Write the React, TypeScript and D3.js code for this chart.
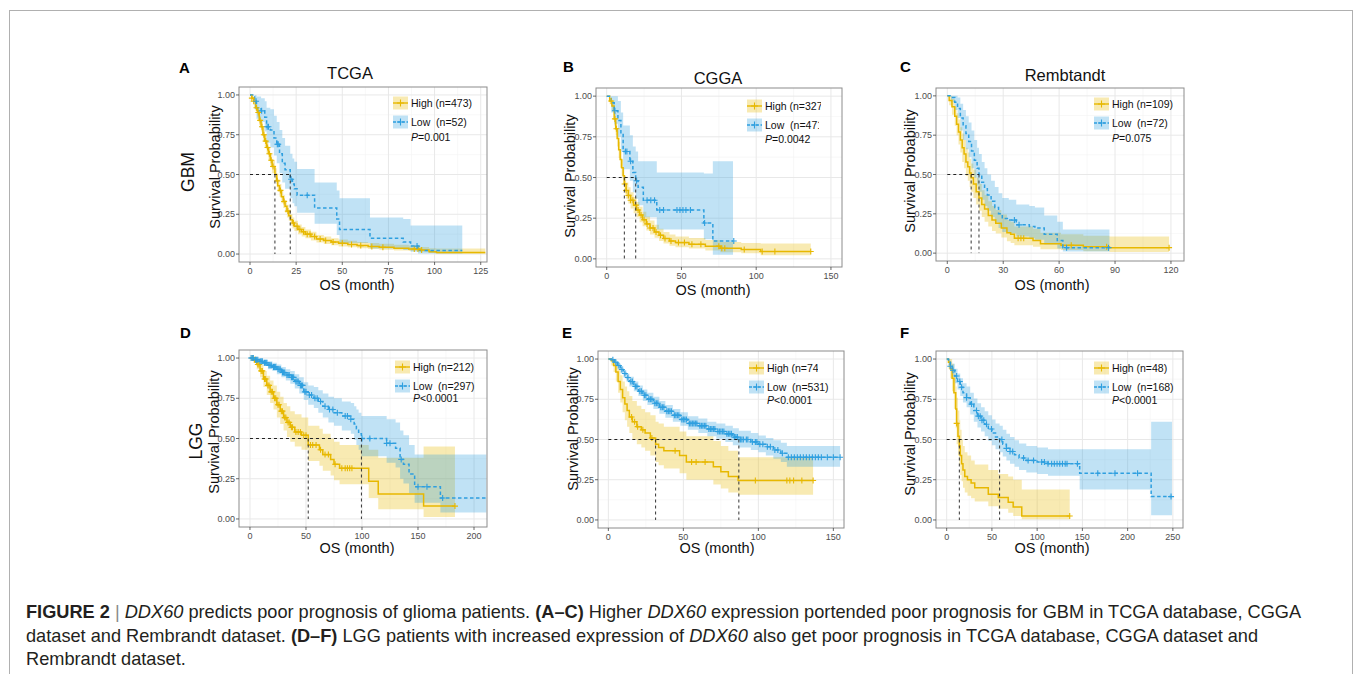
import React from 'react';
import * as d3 from 'd3';

// rows: [month, survival, lower CI, upper CI]
type Row = [number, number, number, number];

const HIGH_COLOR = '#E7B800';
const LOW_COLOR = '#2E9FDF';
const FONT = '"Liberation Sans", Arial, Helvetica, sans-serif';

const yTicks = [0, 0.25, 0.5, 0.75, 1];

// ---- A: GBM / TCGA ----
const tcgaGbmHigh: Row[] = [
  [0, 1, 1, 1], [1, 0.98, 0.97, 0.99], [2, 0.96, 0.94, 0.98], [3, 0.92, 0.9, 0.94],
  [4, 0.89, 0.86, 0.92], [5, 0.84, 0.81, 0.87], [6, 0.8, 0.77, 0.83], [7, 0.75, 0.71, 0.79],
  [8, 0.71, 0.67, 0.75], [9, 0.67, 0.63, 0.71], [10, 0.63, 0.59, 0.67], [11, 0.59, 0.55, 0.63],
  [12, 0.55, 0.51, 0.59], [13.5, 0.5, 0.46, 0.54], [14.5, 0.46, 0.42, 0.5], [15, 0.43, 0.39, 0.47],
  [16, 0.4, 0.36, 0.44], [17, 0.36, 0.32, 0.4], [18, 0.33, 0.29, 0.37], [19, 0.3, 0.26, 0.34],
  [20, 0.27, 0.23, 0.31], [21, 0.24, 0.21, 0.28], [22, 0.215, 0.18, 0.25], [23, 0.195, 0.16, 0.23],
  [24, 0.175, 0.145, 0.21], [26, 0.155, 0.125, 0.185], [28, 0.14, 0.11, 0.17], [30, 0.125, 0.1, 0.155],
  [33, 0.11, 0.085, 0.14], [36, 0.095, 0.072, 0.12], [40, 0.085, 0.063, 0.11], [44, 0.075, 0.055, 0.1],
  [48, 0.068, 0.048, 0.092], [53, 0.06, 0.042, 0.083], [58, 0.053, 0.036, 0.076], [64, 0.047, 0.031, 0.07],
  [70, 0.042, 0.027, 0.064], [78, 0.037, 0.023, 0.058], [86, 0.032, 0.019, 0.053], [92, 0.025, 0.014, 0.045],
  [97, 0.015, 0.006, 0.036], [101, 0.009, 0.002, 0.035], [127.5, 0.009, 0.002, 0.035],
];
const tcgaGbmLow: Row[] = [
  [0, 1, 1, 1], [2.5, 0.96, 0.91, 1], [3.5, 0.92, 0.85, 0.99], [6, 0.9, 0.83, 0.98],
  [8, 0.86, 0.77, 0.96], [9, 0.8, 0.7, 0.92], [11, 0.78, 0.67, 0.91], [13, 0.73, 0.62, 0.87],
  [14.5, 0.69, 0.57, 0.83], [16, 0.63, 0.51, 0.78], [17.5, 0.57, 0.45, 0.73], [19, 0.53, 0.41, 0.68],
  [21.8, 0.47, 0.35, 0.63], [23, 0.44, 0.32, 0.6], [24, 0.41, 0.3, 0.58], [25.5, 0.37, 0.26, 0.535],
  [35, 0.29, 0.19, 0.45], [47, 0.22, 0.12, 0.4], [48.5, 0.155, 0.07, 0.35], [65, 0.1, 0.035, 0.23],
  [83, 0.075, 0.025, 0.22], [87, 0.05, 0.015, 0.18], [91, 0.022, 0.004, 0.18], [115, 0.022, 0.004, 0.18],
];
const tcgaGbmHighCensor = [1, 2, 3.5, 4.5, 5.5, 6.5, 7.5, 8.5, 9.5, 10.5, 11.5, 12.5, 14.8, 16.5, 18.5, 20.5, 23.5,
  25.5, 27, 29, 31, 32.5, 35, 38, 41, 45, 50, 55, 60, 66, 72, 89, 91, 93];
const tcgaGbmLowCensor = [3.3, 6.3, 9.3, 10, 14.8, 15.3, 22.3, 31, 90.5];

// ---- B: GBM / CGGA ----
const cggaGbmHigh: Row[] = [
  [0, 1, 1, 1], [2, 0.97, 0.95, 0.99], [3.5, 0.94, 0.91, 0.97], [5, 0.86, 0.82, 0.9],
  [6, 0.8, 0.76, 0.84], [7, 0.74, 0.69, 0.79], [8, 0.67, 0.62, 0.72], [9, 0.61, 0.56, 0.66],
  [10, 0.56, 0.51, 0.61], [11, 0.51, 0.46, 0.56], [11.8, 0.46, 0.41, 0.51], [13, 0.42, 0.37, 0.47],
  [14.5, 0.39, 0.34, 0.44], [16, 0.36, 0.31, 0.41], [18, 0.33, 0.28, 0.38], [20, 0.3, 0.255, 0.35],
  [22, 0.27, 0.225, 0.32], [24, 0.24, 0.2, 0.29], [26.5, 0.215, 0.175, 0.26], [29, 0.19, 0.15, 0.235],
  [32, 0.165, 0.13, 0.21], [35, 0.145, 0.11, 0.185], [38, 0.125, 0.095, 0.165], [42, 0.11, 0.08, 0.15],
  [46, 0.1, 0.072, 0.138], [55, 0.09, 0.063, 0.128], [66, 0.078, 0.052, 0.116], [76, 0.065, 0.041, 0.103],
  [90, 0.058, 0.035, 0.097], [103, 0.045, 0.022, 0.095], [136.5, 0.045, 0.022, 0.095],
];
const cggaGbmLow: Row[] = [
  [0, 1, 1, 1], [3, 0.96, 0.9, 1], [5, 0.91, 0.83, 1], [7.5, 0.85, 0.75, 0.97],
  [9.5, 0.77, 0.66, 0.9], [11, 0.66, 0.55, 0.82], [15.5, 0.6, 0.48, 0.76], [17.5, 0.53, 0.41, 0.69],
  [19.4, 0.48, 0.37, 0.66], [21, 0.44, 0.33, 0.6], [24.5, 0.36, 0.255, 0.6], [33.5, 0.3, 0.18, 0.53],
  [65, 0.22, 0.12, 0.525], [71, 0.11, 0.025, 0.6], [84.5, 0.11, 0.025, 0.6],
];
const cggaGbmHighCensor = [3, 5.5, 6.5, 12, 13, 14.5, 16, 17.5, 19.5, 21, 23, 25, 27, 29, 31, 33, 36, 39, 43, 48,
  52, 57, 63, 75, 77, 79, 92, 104, 112.5, 136.5];
const cggaGbmLowCensor = [5.5, 12.5, 13.5, 16, 20, 27, 29.5, 32, 35.5, 38, 47, 49, 51, 53, 56, 65.5, 85];

// ---- C: GBM / Rembrandt ----
const rembGbmHigh: Row[] = [
  [0, 1, 1, 1], [1, 0.97, 0.94, 1], [2.5, 0.93, 0.88, 0.98], [4, 0.87, 0.81, 0.93],
  [5, 0.82, 0.75, 0.89], [6, 0.77, 0.69, 0.85], [7, 0.72, 0.64, 0.8], [8, 0.67, 0.58, 0.76],
  [9, 0.63, 0.54, 0.72], [10, 0.58, 0.49, 0.67], [11, 0.55, 0.46, 0.64], [12, 0.51, 0.42, 0.6],
  [12.8, 0.48, 0.39, 0.57], [14, 0.44, 0.35, 0.53], [15.5, 0.39, 0.31, 0.48], [17, 0.35, 0.27, 0.44],
  [18.5, 0.31, 0.23, 0.4], [20, 0.28, 0.2, 0.37], [22, 0.24, 0.17, 0.33], [24, 0.21, 0.14, 0.3],
  [26, 0.19, 0.125, 0.275], [29, 0.16, 0.1, 0.245], [32, 0.13, 0.075, 0.21], [34, 0.12, 0.065, 0.2],
  [36, 0.095, 0.05, 0.17], [46, 0.08, 0.04, 0.155], [50, 0.06, 0.025, 0.13], [61, 0.05, 0.02, 0.12],
  [73, 0.04, 0.012, 0.11], [87, 0.035, 0.008, 0.105], [119, 0.035, 0.008, 0.105],
];
const rembGbmLow: Row[] = [
  [0, 1, 1, 1], [2, 0.99, 0.96, 1], [4, 0.96, 0.91, 1], [5.5, 0.92, 0.86, 0.99],
  [7, 0.86, 0.78, 0.95], [8.5, 0.81, 0.72, 0.91], [10, 0.76, 0.66, 0.87], [11.5, 0.71, 0.61, 0.83],
  [13, 0.65, 0.54, 0.78], [14.5, 0.59, 0.48, 0.72], [16, 0.54, 0.43, 0.67], [17, 0.5, 0.39, 0.63],
  [18.5, 0.45, 0.34, 0.58], [20, 0.41, 0.3, 0.54], [21.5, 0.37, 0.27, 0.5], [23.5, 0.33, 0.23, 0.46],
  [25.5, 0.29, 0.195, 0.42], [27.5, 0.25, 0.16, 0.38], [29.5, 0.22, 0.135, 0.35], [33, 0.21, 0.125, 0.34],
  [37, 0.18, 0.105, 0.31], [44, 0.17, 0.095, 0.3], [47, 0.16, 0.085, 0.29], [52, 0.12, 0.055, 0.24],
  [59, 0.08, 0.03, 0.2], [62, 0.035, 0.01, 0.15], [87, 0.035, 0.01, 0.15],
];
const rembGbmHighCensor = [38, 39.5, 41, 66.5, 85.5, 119];
const rembGbmLowCensor = [36, 38.5, 64, 86.5];

// ---- D: LGG / TCGA ----
const tcgaLggHigh: Row[] = [
  [0, 1, 1, 1], [3, 0.99, 0.97, 1], [6, 0.96, 0.93, 0.99], [9, 0.92, 0.88, 0.96],
  [12, 0.87, 0.82, 0.92], [15, 0.83, 0.77, 0.89], [18, 0.79, 0.72, 0.86], [21, 0.75, 0.68, 0.83],
  [24, 0.71, 0.63, 0.79], [27, 0.67, 0.59, 0.76], [30, 0.63, 0.55, 0.72], [33, 0.6, 0.51, 0.7],
  [36, 0.57, 0.48, 0.67], [40, 0.54, 0.45, 0.65], [46, 0.52, 0.43, 0.63], [52, 0.46, 0.36, 0.58],
  [62, 0.43, 0.33, 0.56], [65, 0.4, 0.3, 0.53], [72, 0.37, 0.27, 0.5], [75, 0.34, 0.24, 0.48],
  [80, 0.315, 0.215, 0.46], [106, 0.235, 0.13, 0.43], [114.5, 0.155, 0.06, 0.38], [155, 0.08, 0.012, 0.45],
  [183, 0.08, 0.012, 0.45],
];
const tcgaLggLow: Row[] = [
  [0, 1, 1, 1], [4, 0.99, 0.98, 1], [8, 0.98, 0.965, 0.995], [12, 0.97, 0.95, 0.99],
  [16, 0.955, 0.93, 0.98], [20, 0.945, 0.92, 0.97], [24, 0.93, 0.9, 0.96], [28, 0.91, 0.88, 0.945],
  [32, 0.895, 0.86, 0.93], [36, 0.88, 0.84, 0.92], [40, 0.855, 0.81, 0.9], [44, 0.83, 0.78, 0.88],
  [48, 0.79, 0.74, 0.85], [52, 0.77, 0.71, 0.83], [57, 0.75, 0.69, 0.82], [61, 0.73, 0.66, 0.8],
  [65, 0.7, 0.63, 0.78], [70, 0.68, 0.6, 0.76], [75, 0.66, 0.58, 0.75], [82, 0.64, 0.55, 0.73],
  [90, 0.62, 0.53, 0.72], [93, 0.59, 0.49, 0.7], [95, 0.56, 0.46, 0.68], [97, 0.53, 0.43, 0.66],
  [99.5, 0.5, 0.39, 0.64], [122, 0.47, 0.35, 0.62], [130, 0.44, 0.32, 0.6], [134, 0.37, 0.25, 0.55],
  [137, 0.34, 0.22, 0.52], [142, 0.28, 0.16, 0.46], [147, 0.2, 0.1, 0.4], [170, 0.13, 0.04, 0.4],
  [211, 0.13, 0.04, 0.4],
];
const tcgaLggHighCensor = [2, 4, 5, 7, 8, 10, 11, 13, 14, 16, 17, 19, 20, 22, 23, 25, 26, 28, 29, 31, 32, 34, 35,
  37, 38, 41, 43, 45, 48, 50, 54, 56, 59, 63, 67, 70, 76, 82, 85, 87, 89, 91, 183];
const tcgaLggLowCensor = [1, 2, 3, 5, 6, 7, 9, 10, 11, 13, 14, 15, 17, 18, 19, 21, 22, 23, 25, 26, 27, 29, 30, 31,
  33, 34, 35, 37, 38, 39, 41, 42, 43, 45, 46, 47, 49, 50, 53, 55, 58, 60, 63, 67, 71, 74, 78, 85, 87, 90,
  100, 107, 122, 125, 135, 150, 158, 172];

// ---- E: LGG / CGGA ----
const cggaLggHigh: Row[] = [
  [0, 1, 1, 1], [2, 0.99, 0.96, 1], [3.5, 0.96, 0.92, 1], [5, 0.92, 0.86, 0.98],
  [6.5, 0.86, 0.79, 0.94], [8, 0.81, 0.73, 0.9], [9.5, 0.76, 0.67, 0.86], [11, 0.72, 0.62, 0.83],
  [12.5, 0.68, 0.58, 0.8], [14, 0.64, 0.54, 0.77], [16, 0.61, 0.5, 0.74], [19, 0.58, 0.47, 0.71],
  [22, 0.56, 0.45, 0.69], [24.5, 0.54, 0.43, 0.67], [28, 0.51, 0.4, 0.65], [31.5, 0.47, 0.36, 0.61],
  [33.5, 0.45, 0.34, 0.6], [37, 0.43, 0.32, 0.58], [47.5, 0.4, 0.29, 0.55], [52, 0.36, 0.25, 0.52],
  [70, 0.33, 0.22, 0.49], [75, 0.3, 0.195, 0.46], [80, 0.27, 0.17, 0.43], [86.5, 0.245, 0.157, 0.39],
  [136.5, 0.245, 0.157, 0.39],
];
const cggaLggLow: Row[] = [
  [0, 1, 1, 1], [2, 0.995, 0.99, 1], [4, 0.98, 0.97, 0.99], [6, 0.96, 0.94, 0.975],
  [8, 0.935, 0.915, 0.955], [10, 0.91, 0.885, 0.93], [12, 0.885, 0.86, 0.91], [14, 0.86, 0.83, 0.89],
  [17, 0.83, 0.8, 0.86], [20, 0.8, 0.77, 0.835], [23, 0.775, 0.74, 0.81], [26, 0.75, 0.715, 0.79],
  [30, 0.725, 0.69, 0.765], [34, 0.7, 0.66, 0.74], [38, 0.675, 0.635, 0.715], [43, 0.65, 0.61, 0.69],
  [48, 0.625, 0.585, 0.67], [53, 0.6, 0.56, 0.645], [60, 0.585, 0.54, 0.63], [66, 0.565, 0.52, 0.61],
  [72, 0.55, 0.505, 0.6], [78, 0.535, 0.485, 0.585], [83, 0.515, 0.465, 0.57], [87, 0.5, 0.45, 0.555],
  [95, 0.485, 0.435, 0.54], [100, 0.47, 0.42, 0.525], [105, 0.455, 0.4, 0.51], [110, 0.435, 0.38, 0.495],
  [115, 0.415, 0.36, 0.48], [119, 0.39, 0.33, 0.46], [154.5, 0.39, 0.33, 0.46],
];
const cggaLggHighCensor = [15.5, 17.5, 19.5, 23, 29, 44.5, 55.5, 58.5, 64.5, 98, 119, 121, 123.5, 129, 136.5];
const cggaLggLowCensor = [3, 5, 7, 9, 11, 13, 15, 16, 18, 19, 21, 22, 24, 25, 27, 28, 29, 31, 32, 33, 35, 36, 37,
  39, 40, 41, 42, 44, 45, 46, 47, 49, 50, 51, 52, 54, 55, 56, 57, 58, 59, 61, 62, 63, 64, 65, 67, 68, 69, 70,
  71, 73, 74, 75, 76, 77, 79, 80, 81, 82, 84, 85, 86, 88, 89, 90, 92, 93, 96, 98, 99, 101, 103, 106, 108,
  111, 113, 116, 120, 122, 124, 126, 128, 130, 132, 134, 136, 138, 140, 142, 146, 150, 154.5];

// ---- F: LGG / Rembrandt ----
const rembLggHigh: Row[] = [
  [0, 1, 1, 1], [2, 0.98, 0.94, 1], [4, 0.94, 0.88, 1], [6, 0.88, 0.8, 0.97],
  [8, 0.79, 0.69, 0.91], [10, 0.69, 0.57, 0.83], [11, 0.6, 0.47, 0.76], [12.5, 0.52, 0.4, 0.68],
  [14, 0.46, 0.34, 0.62], [15, 0.4, 0.28, 0.56], [16.5, 0.35, 0.24, 0.5], [18, 0.31, 0.2, 0.46],
  [20, 0.27, 0.17, 0.42], [23, 0.25, 0.15, 0.4], [27, 0.23, 0.135, 0.37], [31, 0.2, 0.115, 0.345],
  [46, 0.16, 0.085, 0.31], [57, 0.14, 0.07, 0.285], [68, 0.11, 0.045, 0.27], [73.5, 0.08, 0.025, 0.25],
  [83, 0.025, 0.004, 0.19], [136, 0.025, 0.004, 0.19],
];
const rembLggLow: Row[] = [
  [0, 1, 1, 1], [2, 0.98, 0.96, 1], [4, 0.955, 0.925, 0.985], [6, 0.93, 0.89, 0.97],
  [9, 0.895, 0.85, 0.94], [12, 0.86, 0.81, 0.91], [15, 0.825, 0.77, 0.88], [18, 0.79, 0.73, 0.85],
  [22, 0.76, 0.7, 0.83], [26, 0.72, 0.655, 0.79], [30, 0.68, 0.61, 0.755], [34, 0.645, 0.575, 0.725],
  [38, 0.62, 0.55, 0.7], [42, 0.595, 0.52, 0.675], [46, 0.565, 0.49, 0.65], [50, 0.54, 0.465, 0.625],
  [54, 0.515, 0.44, 0.6], [58.5, 0.5, 0.42, 0.585], [62, 0.47, 0.395, 0.56], [66, 0.445, 0.37, 0.535],
  [70, 0.425, 0.35, 0.515], [75, 0.405, 0.33, 0.495], [80, 0.385, 0.31, 0.475], [88, 0.37, 0.295, 0.46],
  [100, 0.36, 0.285, 0.45], [112, 0.35, 0.275, 0.44], [147, 0.29, 0.19, 0.44], [226, 0.145, 0.03, 0.61],
  [249, 0.145, 0.03, 0.61],
];
const rembLggHighCensor = [11, 136];
const rembLggLowCensor = [4, 7, 11, 14.5, 16.5, 22, 27.5, 33, 35, 37, 39, 41, 44, 49.5, 61, 66, 70, 73, 85, 90,
  96, 105, 108, 112, 116, 119, 122, 125, 128, 131, 133, 144.5, 167, 186, 211, 248];

// ---- layout of the six panels ----
type Box = { l: number; t: number; r: number; b: number };
type PanelCfg = {
  letter: string; letterPos: [number, number];
  title?: string; titlePos?: [number, number];
  rowLabel?: string; rowLabelPos?: [number, number];
  box: Box; xDomain: [number, number]; xTicks: number[];
  yLabPos: [number, number]; xLabPos: [number, number];
  high: Row[]; low: Row[]; highCens: number[]; lowCens: number[];
  highLabel: string; lowLabel: string; pLabel: string;
  keyX: number; keyHighY: number; keyLowY: number; pY: number; textClip?: [number?, number?];
};

const panels: PanelCfg[] = [
  {
    letter: 'A', letterPos: [179, 73], title: 'TCGA', titlePos: [350, 79], rowLabel: 'GBM', rowLabelPos: [188, 172],
    box: { l: 239, t: 87, r: 487, b: 262 }, xDomain: [-5.96, 128.4], xTicks: [0, 25, 50, 75, 100, 125],
    yLabPos: [215, 167], xLabPos: [357, 290],
    high: tcgaGbmHigh, low: tcgaGbmLow, highCens: tcgaGbmHighCensor, lowCens: tcgaGbmLowCensor,
    highLabel: 'High (n=473)', lowLabel: 'Low  (n=52)', pLabel: '=0.001',
    keyX: 393, keyHighY: 103, keyLowY: 122, pY: 141,
  },
  {
    letter: 'B', letterPos: [563, 72], title: 'CGGA', titlePos: [718, 84],
    box: { l: 596, t: 88, r: 842, b: 267 }, xDomain: [-7.16, 157.4], xTicks: [0, 50, 100, 150],
    yLabPos: [570, 176], xLabPos: [713, 295],
    high: cggaGbmHigh, low: cggaGbmLow, highCens: cggaGbmHighCensor, lowCens: cggaGbmLowCensor,
    highLabel: 'High (n=327)', lowLabel: 'Low  (n=471)', pLabel: '=0.0042',
    keyX: 747, keyHighY: 106, keyLowY: 125, pY: 143, textClip: [821, 819],
  },
  {
    letter: 'C', letterPos: [900, 72], title: 'Rembtandt', titlePos: [1065, 81],
    box: { l: 936, t: 88, r: 1184, b: 261 }, xDomain: [-6.06, 127.0], xTicks: [0, 30, 60, 90, 120],
    yLabPos: [910, 171], xLabPos: [1052, 290],
    high: rembGbmHigh, low: rembGbmLow, highCens: rembGbmHighCensor, lowCens: rembGbmLowCensor,
    highLabel: 'High (n=109)', lowLabel: 'Low  (n=72)', pLabel: '=0.075',
    keyX: 1094, keyHighY: 104, keyLowY: 123, pY: 142,
  },
  {
    letter: 'D', letterPos: [180, 338], rowLabel: 'LGG', rowLabelPos: [196, 441],
    box: { l: 239, t: 350, r: 487, b: 527 }, xDomain: [-9.8, 211.6], xTicks: [0, 50, 100, 150, 200],
    yLabPos: [214, 432], xLabPos: [357, 553],
    high: tcgaLggHigh, low: tcgaLggLow, highCens: tcgaLggHighCensor, lowCens: tcgaLggLowCensor,
    highLabel: 'High (n=212)', lowLabel: 'Low  (n=297)', pLabel: '<0.0001',
    keyX: 395, keyHighY: 367, keyLowY: 386, pY: 402,
  },
  {
    letter: 'E', letterPos: [562, 338],
    box: { l: 598, t: 351, r: 844, b: 528 }, xDomain: [-6.9, 157.1], xTicks: [0, 50, 100, 150],
    yLabPos: [573, 429], xLabPos: [717, 553],
    high: cggaLggHigh, low: cggaLggLow, highCens: cggaLggHighCensor, lowCens: cggaLggLowCensor,
    highLabel: 'High (n=74)', lowLabel: 'Low  (n=531)', pLabel: '<0.0001',
    keyX: 749, keyHighY: 368, keyLowY: 387, pY: 404, textClip: [818, undefined],
  },
  {
    letter: 'F', letterPos: [900, 338],
    box: { l: 936, t: 351, r: 1183, b: 528 }, xDomain: [-11.8, 261.2], xTicks: [0, 50, 100, 150, 200, 250],
    yLabPos: [910, 434], xLabPos: [1052, 553],
    high: rembLggHigh, low: rembLggLow, highCens: rembLggHighCensor, lowCens: rembLggLowCensor,
    highLabel: 'High (n=48)', lowLabel: 'Low  (n=168)', pLabel: '<0.0001',
    keyX: 1094, keyHighY: 368, keyLowY: 387, pY: 404,
  },
];

const survAt = (rows: Row[], t: number) => {
  let s = rows[0][1];
  for (const r of rows) {
    if (r[0] <= t) s = r[1];
    else break;
  }
  return s;
};
const medianOf = (rows: Row[]) => rows.find(r => r[1] <= 0.5)?.[0];

function Plus({ cx, cy, color, size = 3 }: { cx: number; cy: number; color: string; size?: number }) {
  return (
    <path d={`M${cx - size},${cy}H${cx + size}M${cx},${cy - size}V${cy + size}`} stroke={color} strokeWidth={1.1} fill="none" />
  );
}

function Panel({ p }: { p: PanelCfg }) {
  const { box } = p;
  const x = d3.scaleLinear().domain(p.xDomain).range([box.l, box.r]);
  const y = d3.scaleLinear().domain([-0.05, 1.05]).range([box.b, box.t]);
  const line = d3.line<Row>().x(d => x(d[0])).y(d => y(d[1])).curve(d3.curveStepAfter);
  const band = d3.area<Row>().x(d => x(d[0])).y0(d => y(d[2])).y1(d => y(d[3])).curve(d3.curveStepAfter);
  const xMinor = d3.pairs(p.xTicks).map(([a, b]) => (a + b) / 2);
  const yMinor = d3.pairs(yTicks).map(([a, b]) => (a + b) / 2);
  const clipId = `clip-${p.letter}`;
  const fmt = d3.format('.2f');

  const groups = [
    { rows: p.high, cens: p.highCens, color: HIGH_COLOR, dash: undefined as string | undefined, label: p.highLabel, ky: p.keyHighY, clip: p.textClip?.[0] },
    { rows: p.low, cens: p.lowCens, color: LOW_COLOR, dash: '3.5,2.5', label: p.lowLabel, ky: p.keyLowY, clip: p.textClip?.[1] },
  ];
  const medians = groups.map(g => medianOf(g.rows)).filter((m): m is number => m !== undefined);
  const medMax = d3.max(medians) ?? 0;
  const textX = p.keyX + 18;

  return (
    <g>
      <defs>
        <clipPath id={clipId}>
          <rect x={box.l} y={box.t} width={box.r - box.l} height={box.b - box.t} />
        </clipPath>
        {groups.map((g, i) => g.clip !== undefined && (
          <clipPath key={i} id={`${clipId}-t${i}`}>
            <rect x={textX - 2} y={g.ky - 10} width={g.clip - textX + 2} height={20} />
          </clipPath>
        ))}
      </defs>
      <rect x={box.l} y={box.t} width={box.r - box.l} height={box.b - box.t} fill="#fff" />
      {xMinor.map(v => <line key={`xm${v}`} x1={x(v)} x2={x(v)} y1={box.t} y2={box.b} stroke="#f3f3f3" strokeWidth={0.6} />)}
      {yMinor.map(v => <line key={`ym${v}`} x1={box.l} x2={box.r} y1={y(v)} y2={y(v)} stroke="#f3f3f3" strokeWidth={0.6} />)}
      {p.xTicks.map(v => <line key={`xg${v}`} x1={x(v)} x2={x(v)} y1={box.t} y2={box.b} stroke="#e8e8e8" strokeWidth={1} />)}
      {yTicks.map(v => <line key={`yg${v}`} x1={box.l} x2={box.r} y1={y(v)} y2={y(v)} stroke="#e8e8e8" strokeWidth={1} />)}

      <g clipPath={`url(#${clipId})`}>
        {groups.map((g, i) => <path key={`b${i}`} d={band(g.rows) ?? ''} fill={g.color} fillOpacity={0.3} />)}
        {groups.map((g, i) => (
          <path key={`l${i}`} d={line(g.rows) ?? ''} fill="none" stroke={g.color} strokeWidth={1.5} strokeDasharray={g.dash} />
        ))}
        {groups.map((g, i) => g.cens.map((t, j) => (
          <Plus key={`c${i}-${j}`} cx={x(t)} cy={y(survAt(g.rows, t))} color={g.color} />
        )))}
        <line x1={x(0)} x2={x(medMax)} y1={y(0.5)} y2={y(0.5)} stroke="#222" strokeWidth={1} strokeDasharray="3,3" />
        {medians.map((m, i) => (
          <line key={`m${i}`} x1={x(m)} x2={x(m)} y1={y(0.5)} y2={y(0)} stroke="#333" strokeWidth={1} strokeDasharray="3,3" />
        ))}
      </g>
      <rect x={box.l} y={box.t} width={box.r - box.l} height={box.b - box.t} fill="none" stroke="#8c8c8c" strokeWidth={1} />

      {/* axes */}
      {p.xTicks.map(v => (
        <g key={`xt${v}`}>
          <line x1={x(v)} x2={x(v)} y1={box.b} y2={box.b + 3} stroke="#444" strokeWidth={0.8} />
          <text x={x(v)} y={box.b + 12} fontSize={9} fill="#4d4d4d" textAnchor="middle">{v}</text>
        </g>
      ))}
      {yTicks.map(v => (
        <g key={`yt${v}`}>
          <line x1={box.l - 3} x2={box.l} y1={y(v)} y2={y(v)} stroke="#444" strokeWidth={0.8} />
          <text x={box.l - 4} y={y(v)} dy="0.35em" fontSize={9} fill="#4d4d4d" textAnchor="end">{fmt(v)}</text>
        </g>
      ))}
      <text x={p.xLabPos[0]} y={p.xLabPos[1]} fontSize={14.5} textAnchor="middle" fill="#111">OS (month)</text>
      <text transform={`translate(${p.yLabPos[0]},${p.yLabPos[1]}) rotate(-90)`} dy="0.35em" fontSize={14.5} textAnchor="middle" fill="#111">
        Survival Probability
      </text>
      {p.rowLabel && p.rowLabelPos && (
        <text transform={`translate(${p.rowLabelPos[0]},${p.rowLabelPos[1]}) rotate(-90)`} dy="0.35em" fontSize={17.5} textAnchor="middle" fill="#111">
          {p.rowLabel}
        </text>
      )}
      {p.title && p.titlePos && (
        <text x={p.titlePos[0]} y={p.titlePos[1]} fontSize={16.5} textAnchor="middle" fill="#111">{p.title}</text>
      )}
      <text x={p.letterPos[0]} y={p.letterPos[1]} fontSize={15} fontWeight="bold" fill="#000">{p.letter}</text>

      {/* legend */}
      {groups.map((g, i) => (
        <g key={`lg${i}`}>
          <rect x={p.keyX} y={g.ky - 6.5} width={15} height={13} fill={g.color} fillOpacity={0.3} />
          <line x1={p.keyX} x2={p.keyX + 15} y1={g.ky} y2={g.ky} stroke={g.color} strokeWidth={1.4} strokeDasharray={g.dash ? '3,1.5' : undefined} />
          <Plus cx={p.keyX + 7.5} cy={g.ky} color={g.color} size={3.5} />
          <text x={textX} y={g.ky} dy="0.36em" fontSize={10.5} fill="#111" style={{ whiteSpace: 'pre' }}
            clipPath={g.clip !== undefined ? `url(#${clipId}-t${i})` : undefined}>
            {g.label}
          </text>
        </g>
      ))}
      <text x={textX} y={p.pY} fontSize={10.5} fill="#111">
        <tspan fontStyle="italic">P</tspan>{p.pLabel}
      </text>
    </g>
  );
}

const captionLines: { text: string; style?: 'b' | 'i' | 'g' }[][] = [
  [
    { text: 'FIGURE 2', style: 'b' }, { text: ' | ', style: 'g' }, { text: 'DDX60', style: 'i' },
    { text: ' predicts poor prognosis of glioma patients. ' }, { text: '(A–C)', style: 'b' },
    { text: ' Higher ' }, { text: 'DDX60', style: 'i' },
    { text: ' expression portended poor prognosis for GBM in TCGA database, CGGA' },
  ],
  [
    { text: 'dataset and Rembrandt dataset. ' }, { text: '(D–F)', style: 'b' },
    { text: ' LGG patients with increased expression of ' }, { text: 'DDX60', style: 'i' },
    { text: ' also get poor prognosis in TCGA database, CGGA dataset and' },
  ],
  [{ text: 'Rembrandt dataset.' }],
];

export default function App() {
  return (
    <svg width={1355} height={674} style={{ position: 'absolute', left: 0, top: 0, display: 'block', fontFamily: FONT }}>
      <rect x={0} y={0} width={1355} height={674} fill="#fff" />
      <rect x={9.5} y={10.5} width={1343} height={700} fill="none" stroke="#b0b0b0" strokeWidth={1} />
      {panels.map(p => <Panel key={p.letter} p={p} />)}
      {captionLines.map((ln, i) => (
        <text key={i} x={26} y={618 + i * 23.5} fontSize={18.2} fill="#231f20" style={{ whiteSpace: 'pre' }}>
          {ln.map((s, j) => (
            <tspan key={j} fontWeight={s.style === 'b' ? 'bold' : undefined} fontStyle={s.style === 'i' ? 'italic' : undefined}
              fill={s.style === 'g' ? '#8a8a8a' : undefined}>
              {s.text}
            </tspan>
          ))}
        </text>
      ))}
    </svg>
  );
}
